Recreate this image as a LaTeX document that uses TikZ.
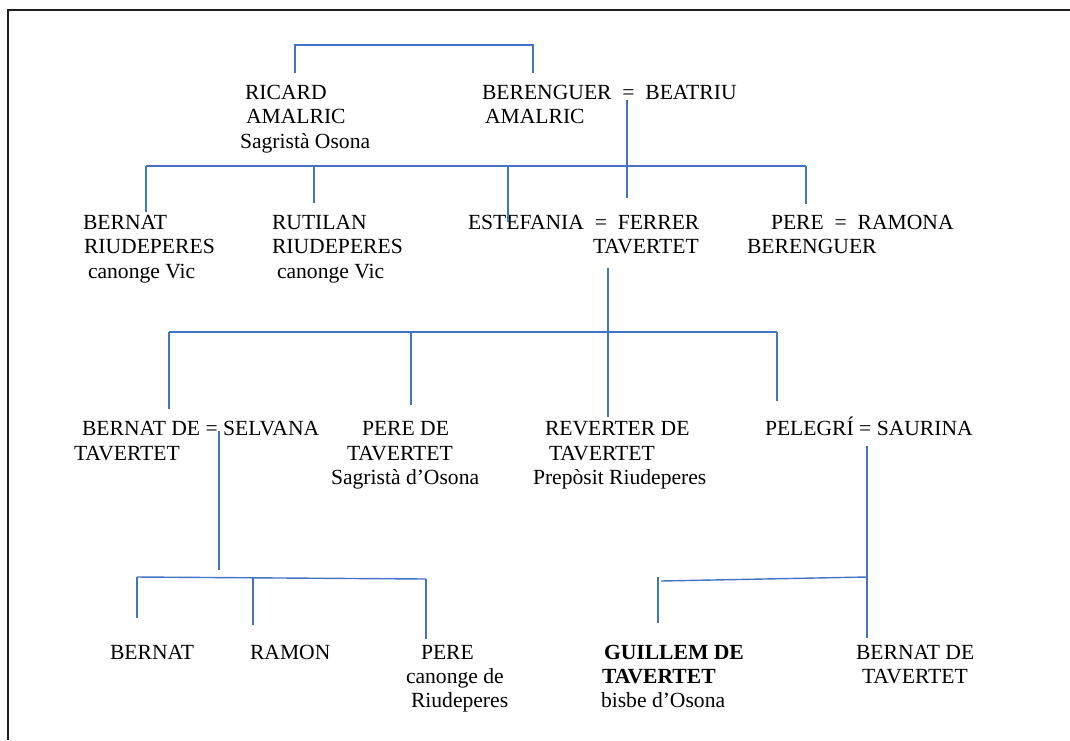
\documentclass[tikz,border=0pt]{standalone}
\usepackage{fontspec}
\setmainfont{Liberation Serif}
\definecolor{linkblue}{RGB}{68,114,196}
\definecolor{framegray}{RGB}{30,30,30}
\begin{document}
\begin{tikzpicture}[x=1pt,y=-1pt,
  lbl/.style={anchor=base west, inner sep=0pt, outer sep=0pt,
              font=\fontsize{21.6}{24}\selectfont},
  link/.style={draw=linkblue, line width=1.4pt},
  frameline/.style={draw=framegray, line width=1.3pt}]
\useasboundingbox (0,0) rectangle (1070,740);

% page frame
\coordinate (fbl) at (8,740);
\coordinate (ftl) at (8,10);
\coordinate (ftr) at (1070,10);
\draw[frameline] (fbl) -- (ftl) -- (ftr);

% ---------- generation 1 ----------
\node[lbl] (ric1) at (245,99) {RICARD};
\node[lbl] (ric2) at (246,123.5) {AMALRIC};
\node[lbl] (ric3) at (240,148) {Sagristà Osona};
\node[lbl] (ber1) at (482,99) {BERENGUER\hspace{0.5em}=\hspace{0.5em}BEATRIU};
\node[lbl] (ber2) at (485,123.5) {AMALRIC};

% ---------- generation 2 ----------
\node[lbl] (bern1) at (83,229) {BERNAT};
\node[lbl] (bern2) at (84,253) {RIUDEPERES};
\node[lbl] (bern3) at (88,278) {canonge Vic};
\node[lbl] (rut1) at (272,229) {RUTILAN};
\node[lbl] (rut2) at (272,253) {RIUDEPERES};
\node[lbl] (rut3) at (277,278) {canonge Vic};
\node[lbl] (est1) at (468,229) {ESTEFANIA\hspace{0.5em}=\hspace{0.5em}FERRER};
\node[lbl] (est2) at (593,253) {TAVERTET};
\node[lbl] (per1) at (771,229) {PERE\hspace{0.5em}=\hspace{0.5em}RAMONA};
\node[lbl] (per2) at (747,253) {BERENGUER};

% ---------- generation 3 ----------
\node[lbl] (bdt1) at (82,435.5) {BERNAT DE = SELVANA};
\node[lbl] (bdt2) at (74,460) {TAVERTET};
\node[lbl] (pdt1) at (362,435.5) {PERE DE};
\node[lbl] (pdt2) at (347,460) {TAVERTET};
\node[lbl] (pdt3) at (331,484) {Sagristà d’Osona};
\node[lbl] (rev1) at (545,435.5) {REVERTER DE};
\node[lbl] (rev2) at (549,460) {TAVERTET};
\node[lbl] (rev3) at (533,484) {Prepòsit Riudeperes};
\node[lbl] (pel1) at (765,435.5) {PELEGRÍ = SAURINA};

% ---------- generation 4 ----------
\node[lbl] (bnt4) at (110,659) {BERNAT};
\node[lbl] (ram4) at (250,659) {RAMON};
\node[lbl] (pe41) at (421,659) {PERE};
\node[lbl] (pe42) at (406,683) {canonge de};
\node[lbl] (pe43) at (411,707) {Riudeperes};
\node[lbl] (gui1) at (604,659) {\textbf{GUILLEM DE}};
\node[lbl] (gui2) at (602,683) {\textbf{TAVERTET}};
\node[lbl] (gui3) at (601,707) {bisbe d’Osona};
\node[lbl] (bdx1) at (856,659) {BERNAT DE};
\node[lbl] (bdx2) at (862,683) {TAVERTET};

% ---------- connector points ----------
% siblings Ricard / Berenguer
\coordinate (s1a) at (295,73);  \coordinate (s1b) at (295,45);
\coordinate (s1c) at (533,45);  \coordinate (s1d) at (533,73);
% children of Berenguer = Beatriu
\coordinate (c1top) at (627,100); \coordinate (c1bot) at (627,198);
\coordinate (b2l) at (146,166);   \coordinate (b2r) at (806,166);
\coordinate (d2a) at (146,212);   \coordinate (j2b) at (314,166); \coordinate (d2b) at (314,203);
\coordinate (j2c) at (508,166);   \coordinate (d2c) at (508,222); \coordinate (d2d) at (806,204);
% children of Estefania = Ferrer
\coordinate (c2top) at (608,268); \coordinate (c2bot) at (608,417);
\coordinate (b3l) at (169,332);   \coordinate (b3r) at (777,332);
\coordinate (d3a) at (169,409);   \coordinate (j3b) at (411,332); \coordinate (d3b) at (411,405);
\coordinate (d3d) at (777,401);
% children of Bernat de Tavertet = Selvana
\coordinate (c3top) at (219,431); \coordinate (c3bot) at (219,570);
\coordinate (b4l) at (137,577);   \coordinate (b4r) at (426,579);
\coordinate (d4a) at (137,618);   \coordinate (j4b) at (253,578); \coordinate (d4b) at (253,625);
\coordinate (d4c) at (426,639);
% children of Pelegrí = Saurina
\coordinate (c4top) at (867,446); \coordinate (j4r) at (867,577); \coordinate (c4bot) at (867,638);
\coordinate (b5l) at (661,581);
\coordinate (d5t) at (658,577);   \coordinate (d5b) at (658,623);

% ---------- connectors ----------
\draw[link] (s1a) -- (s1b) -- (s1c) -- (s1d);

\draw[link] (c1top) -- (c1bot);
\draw[link] (b2l) -- (b2r);
\draw[link] (b2l) -- (d2a);
\draw[link] (j2b) -- (d2b);
\draw[link] (j2c) -- (d2c);
\draw[link] (b2r) -- (d2d);

\draw[link] (c2top) -- (c2bot);
\draw[link] (b3l) -- (b3r);
\draw[link] (b3l) -- (d3a);
\draw[link] (j3b) -- (d3b);
\draw[link] (b3r) -- (d3d);

\draw[link] (c3top) -- (c3bot);
\draw[link] (b4l) -- (b4r);
\draw[link] (b4l) -- (d4a);
\draw[link] (j4b) -- (d4b);
\draw[link] (b4r) -- (d4c);

\draw[link] (c4top) -- (c4bot);
\draw[link] (b5l) -- (j4r);
\draw[link] (d5t) -- (d5b);
\end{tikzpicture}
\end{document}
